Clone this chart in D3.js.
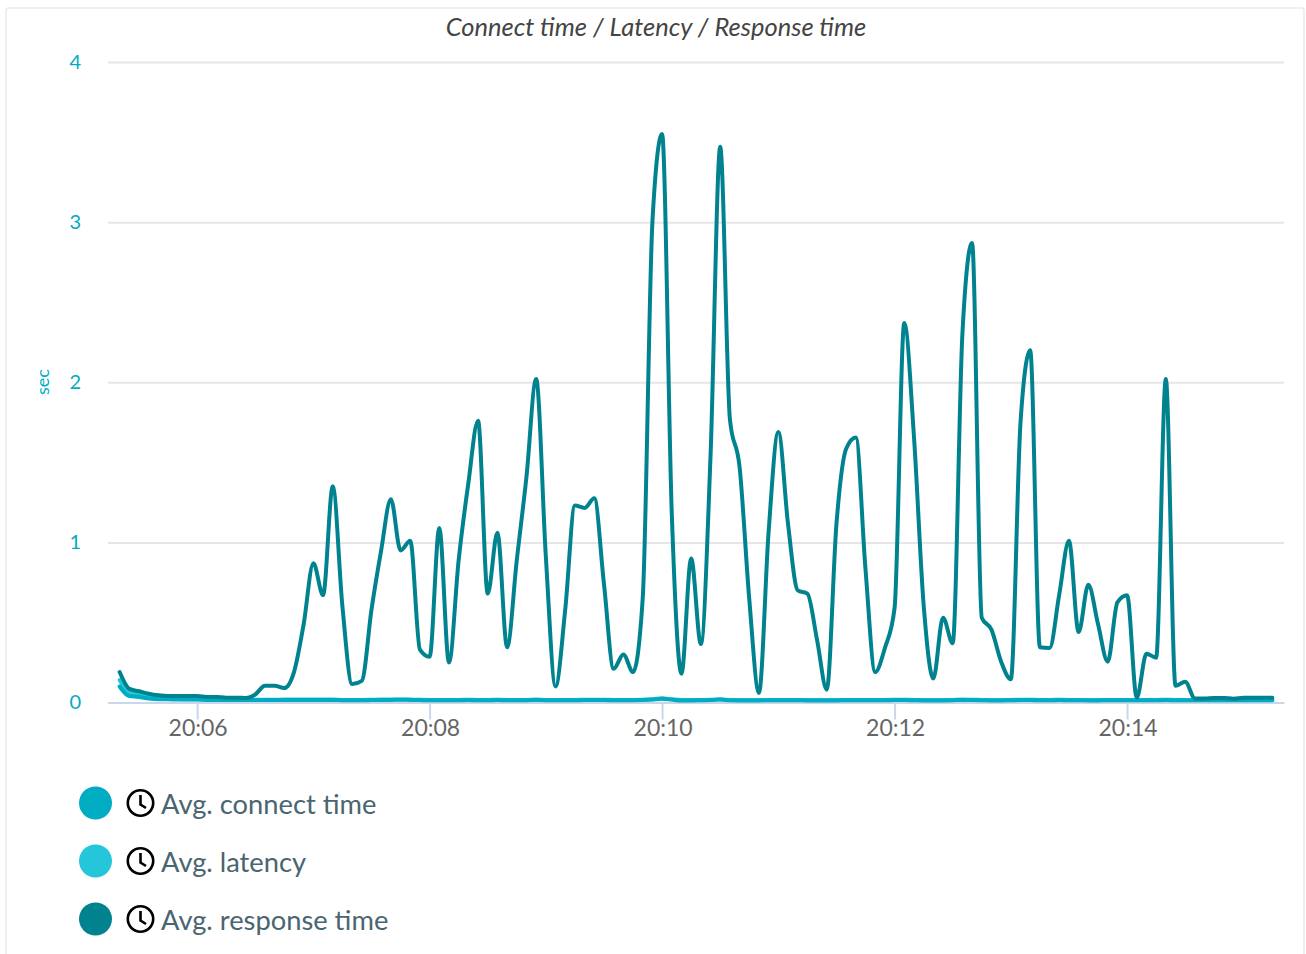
<!DOCTYPE html>
<html><head><meta charset="utf-8">
<script src="https://cdn.jsdelivr.net/npm/d3@7"></script>
<style>
html,body{margin:0;padding:0;background:#fff;overflow:hidden}
svg{display:block}
text{font-family:Lato,"Noto Sans",sans-serif}
</style></head><body><svg id="c" width="1306" height="954"></svg>
<script>
const chartTitle = "Connect time / Latency / Response time";
const yTicks = [0,1,2,3,4];
const yLabel = "sec";
const xTickMinutes = [6,8,10,12,14];
const stepSeconds = 5;
const startSecond = 5*60+20;
const seriesNames = ["Avg. connect time","Avg. latency","Avg. response time"];
const seriesColors = ["#00acc1","#26c6da","#00838f"];

const responseTime = [
0.19,0.085,0.07,0.055,0.045,0.04,0.04,0.04,0.04,0.035,
0.035,0.03,0.03,0.028,0.05,0.105,0.105,0.09,0.19,0.49,
0.87,0.67,1.35,0.6,0.115,0.135,0.58,0.95,1.27,0.95,
1.01,0.33,0.285,1.09,0.25,0.89,1.37,1.76,0.68,1.06,
0.345,0.89,1.41,2.02,0.91,0.1,0.58,1.23,1.215,1.275,
0.74,0.21,0.30,0.19,0.65,3.0,3.55,1.18,0.18,0.90,
0.365,1.54,3.47,1.77,1.47,0.645,0.06,1.07,1.69,1.115,
0.70,0.68,0.39,0.08,1.115,1.585,1.655,0.83,0.19,0.34,
0.59,2.37,1.66,0.61,0.15,0.53,0.37,2.3,2.87,0.53,
0.455,0.255,0.145,1.75,2.2,0.345,0.34,0.675,1.01,0.44,
0.735,0.49,0.255,0.625,0.67,0.03,0.305,0.28,2.02,0.105,
0.13,0.025,0.025,0.028,0.028,0.024,0.03,0.03,0.03,0.03];

const connectTime = [
0.10,0.04,0.035,0.025,0.02,0.02,0.018,0.018,0.018,0.016,
0.016,0.015,0.015,0.015,0.015,0.015,0.015,0.016,0.016,0.016,
0.016,0.016,0.016,0.014,0.014,0.014,0.015,0.016,0.016,0.017,
0.016,0.015,0.014,0.014,0.014,0.014,0.015,0.014,0.014,0.015,
0.014,0.014,0.014,0.016,0.014,0.014,0.014,0.014,0.015,0.015,
0.015,0.014,0.014,0.014,0.015,0.018,0.024,0.018,0.013,0.013,
0.014,0.015,0.018,0.014,0.013,0.013,0.013,0.014,0.014,0.014,
0.014,0.013,0.013,0.013,0.013,0.014,0.014,0.014,0.014,0.014,
0.015,0.015,0.014,0.013,0.013,0.013,0.014,0.016,0.015,0.014,
0.013,0.013,0.014,0.015,0.015,0.014,0.014,0.015,0.014,0.014,
0.013,0.013,0.014,0.014,0.014,0.014,0.014,0.014,0.015,0.014,
0.014,0.014,0.014,0.014,0.014,0.014,0.014,0.014,0.014,0.014];

const latency = [
0.14,0.06,0.05,0.04,0.03,0.025,0.022,0.02,0.02,0.019,
0.018,0.017,0.017,0.017,0.017,0.017,0.017,0.018,0.018,0.018,
0.018,0.018,0.018,0.016,0.016,0.016,0.017,0.018,0.018,0.019,
0.018,0.017,0.016,0.016,0.016,0.016,0.017,0.016,0.016,0.017,
0.016,0.016,0.016,0.018,0.016,0.016,0.016,0.016,0.017,0.017,
0.017,0.016,0.016,0.016,0.017,0.02,0.026,0.02,0.015,0.015,
0.016,0.017,0.02,0.016,0.015,0.015,0.015,0.016,0.016,0.016,
0.016,0.015,0.015,0.015,0.015,0.016,0.016,0.016,0.016,0.016,
0.017,0.017,0.016,0.015,0.015,0.015,0.016,0.018,0.017,0.016,
0.015,0.015,0.016,0.017,0.017,0.016,0.016,0.017,0.016,0.016,
0.015,0.015,0.016,0.016,0.016,0.016,0.016,0.016,0.017,0.016,
0.016,0.016,0.016,0.016,0.016,0.016,0.016,0.016,0.016,0.016];

const clock = s => new Date(2020,0,1,20,0,s);
const svg = d3.select("#c");

svg.append("rect").attr("x",6).attr("y",8).attr("width",1298).attr("height",960)
  .attr("rx",3).attr("fill","#fff").attr("stroke","#efefef").attr("stroke-width",2);

svg.append("text").attr("x",656).attr("y",36).attr("text-anchor","middle")
  .attr("font-size",25.5).attr("font-style","italic").attr("fill","#444").text(chartTitle);

const x = d3.scaleTime().domain([clock(314.6),clock(921.6)]).range([108,1284]);
const y = d3.scaleLinear().domain([0,4]).range([702.5,62]);

const gy = svg.append("g").attr("transform","translate(108,0)")
  .call(d3.axisLeft(y).tickValues(yTicks).tickSize(-1176).tickPadding(27).tickFormat(d3.format("d")));
gy.select(".domain").remove();
gy.selectAll("line").attr("stroke","#e6e6e6").attr("stroke-width",2);
gy.selectAll("text").attr("font-size",20).attr("fill","#00acc1").attr("dy","0.32em");

svg.append("text").attr("transform","translate(49,382) rotate(-90)").attr("text-anchor","middle")
  .attr("font-size",18).attr("fill","#00acc1").text(yLabel);

const gx = svg.append("g").attr("transform","translate(0,702.5)")
  .call(d3.axisBottom(x).tickValues(xTickMinutes.map(m=>clock(m*60))).tickSize(17).tickSizeOuter(0).tickPadding(0)
    .tickFormat(d3.timeFormat("%H:%M")));
gx.select(".domain").attr("stroke","#ccd6eb").attr("stroke-width",2);
gx.selectAll("line").attr("stroke","#ccd6eb").attr("stroke-width",2);
gx.selectAll("text").attr("font-size",23).attr("fill","#666").attr("dx","0.5");

const line = d3.line().x((d,i)=>x(clock(startSecond+i*stepSeconds))).y(d=>y(d)).curve(d3.curveMonotoneX);
[[latency,1],[connectTime,0],[responseTime,2]].forEach(([vals,c])=>{
  svg.append("path").datum(vals).attr("d",line).attr("fill","none")
    .attr("stroke",seriesColors[c]).attr("stroke-width",4)
    .attr("stroke-linejoin","round").attr("stroke-linecap","round");
});

const legend = svg.append("g").selectAll("g").data(seriesNames).join("g")
  .attr("transform",(d,i)=>`translate(0,${803+i*58})`);
legend.append("circle").attr("cx",95.5).attr("r",16.5).attr("fill",(d,i)=>seriesColors[i]);
legend.append("circle").attr("cx",140.5).attr("r",12.7).attr("fill","none").attr("stroke","#000").attr("stroke-width",2.6);
legend.append("path").attr("d","M140.5 -8V1.5L146 5").attr("fill","none").attr("stroke","#000").attr("stroke-width",2.6);
legend.append("text").attr("x",161).attr("y",11).attr("font-size",27.3).attr("fill","#4a6572").text(d=>d);
</script></body></html>
